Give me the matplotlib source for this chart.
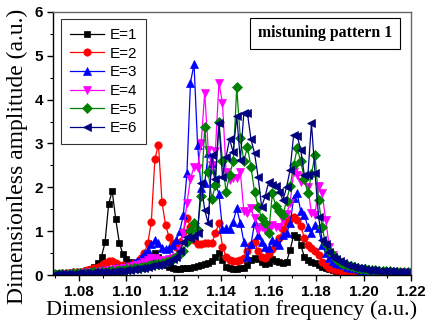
import numpy as np
import matplotlib
matplotlib.use("Agg")
import matplotlib.pyplot as plt
from matplotlib.ticker import MultipleLocator

# frequency grid (uniform sweep 1.07 .. 1.22)
freq = np.linspace(1.07, 1.22, 101)

E1 = [0.03,0.03,0.04,0.04,0.05,0.05,0.06,0.07,0.08,0.11,0.14,
      0.19,0.27,0.42,0.75,1.62,1.92,1.27,0.74,0.47,0.37,0.30,
      0.27,0.25,0.25,0.27,0.32,0.40,0.50,0.42,0.30,0.22,0.18,
      0.15,0.14,0.14,0.15,0.16,0.17,0.19,0.21,0.23,0.25,0.28,
      0.33,0.42,0.50,0.34,0.19,0.15,0.14,0.14,0.15,0.16,0.23,
      0.34,0.39,0.36,0.30,0.25,0.28,0.36,0.33,0.30,0.28,0.30,
      0.57,0.91,0.87,0.68,0.42,0.34,0.30,0.27,0.22,0.18,0.15,
      0.13,0.11,0.10,0.09,0.08,0.07,0.07,0.06,0.06,0.05,0.05,
      0.05,0.05,0.04,0.04,0.04,0.04,0.04,0.03,0.03,0.03,0.03,0.03,0.03]

E2 = [0.03,0.03,0.04,0.04,0.05,0.06,0.07,0.08,0.09,0.11,0.13,
      0.15,0.18,0.23,0.28,0.32,0.33,0.28,0.24,0.22,0.21,0.23,
      0.27,0.30,0.38,0.50,0.72,1.22,2.65,2.97,1.66,1.14,0.86,
      0.72,0.65,0.76,0.99,1.30,1.10,0.80,0.70,0.70,0.72,0.72,
      0.72,0.95,1.19,0.65,0.42,0.35,0.33,0.33,0.34,0.40,0.55,
      0.68,0.76,0.55,0.42,0.38,0.48,0.60,0.70,0.85,1.05,1.20,
      1.27,1.33,1.25,1.12,0.85,0.68,0.62,0.55,0.46,0.30,0.22,
      0.17,0.14,0.12,0.10,0.09,0.08,0.07,0.07,0.06,0.06,0.05,
      0.05,0.05,0.05,0.04,0.04,0.04,0.04,0.04,0.04,0.03,0.03,0.03,0.03]

E3 = [0.02,0.03,0.03,0.03,0.04,0.04,0.05,0.05,0.06,0.07,0.08,
      0.09,0.10,0.11,0.12,0.13,0.14,0.15,0.17,0.19,0.21,0.24,
      0.28,0.33,0.40,0.48,0.58,0.70,0.80,0.72,0.62,0.60,0.62,
      0.68,0.80,1.00,1.37,2.32,4.39,4.81,2.97,1.98,2.10,2.78,
      2.55,2.09,1.85,1.04,1.07,1.04,1.22,1.52,1.19,0.76,0.42,
      0.70,1.18,0.91,0.76,0.63,0.61,0.80,0.76,0.68,0.91,0.95,
      1.18,1.75,1.86,1.45,1.37,1.10,0.95,1.14,1.07,0.68,0.50,
      0.40,0.32,0.27,0.25,0.22,0.19,0.17,0.15,0.14,0.12,0.11,
      0.10,0.09,0.09,0.08,0.08,0.07,0.07,0.07,0.07,0.06,0.06,0.06,0.06]

E4 = [0.02,0.02,0.03,0.03,0.03,0.04,0.04,0.05,0.05,0.06,0.07,
      0.07,0.08,0.09,0.10,0.11,0.12,0.13,0.14,0.15,0.17,0.19,
      0.21,0.23,0.26,0.30,0.35,0.40,0.38,0.34,0.33,0.35,0.36,
      0.38,0.42,0.55,0.97,1.64,2.20,2.47,2.45,3.00,4.16,2.85,
      2.51,2.82,4.39,3.92,2.36,2.17,2.21,2.21,2.36,1.45,1.42,
      1.52,1.29,1.03,1.10,1.03,1.03,1.14,1.10,1.10,1.26,1.40,
      1.64,2.36,2.28,2.13,2.24,2.00,1.41,1.37,2.02,1.86,1.26,
      0.65,0.45,0.34,0.28,0.24,0.21,0.18,0.16,0.14,0.12,0.11,
      0.10,0.09,0.09,0.08,0.08,0.07,0.07,0.06,0.06,0.06,0.06,0.05,0.05]

E5 = [0.02,0.02,0.03,0.03,0.03,0.04,0.04,0.04,0.05,0.05,0.06,
      0.06,0.07,0.07,0.08,0.09,0.10,0.10,0.11,0.12,0.13,0.14,
      0.15,0.16,0.18,0.19,0.21,0.23,0.25,0.26,0.28,0.30,0.33,
      0.37,0.42,0.48,0.55,0.75,1.00,1.19,1.03,1.80,3.37,2.34,
      1.73,2.05,3.50,2.59,1.90,2.28,2.59,4.28,3.12,2.60,2.92,
      2.47,1.90,1.56,1.30,1.18,0.97,1.86,1.57,1.45,1.37,1.70,
      2.02,2.50,2.89,2.59,2.20,1.86,2.30,2.74,1.71,1.10,0.70,
      0.55,0.45,0.37,0.30,0.26,0.23,0.20,0.18,0.16,0.14,0.13,
      0.12,0.11,0.11,0.10,0.10,0.09,0.09,0.08,0.08,0.08,0.08,0.07,0.07]

E6 = [0.02,0.02,0.02,0.03,0.03,0.03,0.04,0.04,0.04,0.05,0.05,
      0.06,0.06,0.07,0.07,0.08,0.08,0.09,0.10,0.10,0.11,0.12,
      0.13,0.14,0.15,0.17,0.18,0.20,0.22,0.24,0.26,0.29,0.32,
      0.36,0.42,0.55,0.75,0.87,0.84,0.90,0.97,2.09,1.48,1.18,
      2.74,2.20,3.46,2.24,2.70,3.10,2.80,3.63,2.63,3.69,3.69,
      3.10,2.78,2.24,1.56,1.80,2.13,2.05,2.02,1.90,1.71,2.00,
      2.40,3.20,3.17,2.85,2.28,2.28,3.46,2.32,1.33,0.80,0.70,
      0.52,0.42,0.36,0.31,0.27,0.23,0.20,0.18,0.16,0.15,0.13,
      0.12,0.11,0.11,0.10,0.10,0.09,0.09,0.09,0.08,0.08,0.08,0.08,0.08]

series = [E1, E2, E3, E4, E5, E6]
labels = ["E=1", "E=2", "E=3", "E=4", "E=5", "E=6"]
colors = ["#000000", "#ff0000", "#0000ff", "#ff00ff", "#008000", "#000080"]
markers = ["s", "o", "^", "v", "D", "<"]
msizes = [4.8, 5.3, 5.8, 5.8, 4.8, 5.8]

fig = plt.figure(figsize=(4.3, 3.31), dpi=100)
ax = fig.add_axes([0.123, 0.169, 0.833, 0.795])

for y, lab, c, m, ms in zip(series, labels, colors, markers, msizes):
    ax.plot(freq, y, color=c, marker=m, markersize=ms, linewidth=0.9,
            markeredgewidth=0.5, label=lab)

ax.set_xlim(1.069, 1.22)
ax.set_ylim(0, 6)
ax.xaxis.set_minor_locator(MultipleLocator(0.01))
ax.yaxis.set_minor_locator(MultipleLocator(0.5))
ax.set_xticks([1.08, 1.10, 1.12, 1.14, 1.16, 1.18, 1.20, 1.22])
ax.set_xticklabels(["1.08", "1.10", "1.12", "1.14", "1.16", "1.18", "1.20", "1.22"])
ax.set_yticks([0, 1, 2, 3, 4, 5, 6])
ax.set_yticklabels(["0", "1", "2", "3", "4", "5", "6"])

ax.tick_params(which="both", direction="out", top=False, right=False)
ax.tick_params(which="major", length=4.5, width=1, pad=2.5)
ax.tick_params(which="minor", length=2.5, width=0.8)
for lbl in ax.get_xticklabels() + ax.get_yticklabels():
    lbl.set_fontfamily("Liberation Sans")
    lbl.set_fontweight("bold")
    lbl.set_fontsize(11)
for sp in ax.spines.values():
    sp.set_linewidth(1.0)
for sp in ["top", "right"]:
    ax.spines[sp].set_color("#666666")

ax.set_xlabel("Dimensionless excitation frequency (a.u.)", family="Liberation Serif",
              fontsize=16, labelpad=1)
ax.set_ylabel("Dimensionless amplitude (a.u.)", family="Liberation Serif",
              fontsize=17)
ax.yaxis.set_label_coords(-0.07, 0.452)

leg = ax.legend(loc="upper left", bbox_to_anchor=(0.022, 0.973),
                prop={"family": "Liberation Sans", "size": 11},
                frameon=True, fancybox=False, edgecolor="black", handlelength=2.2,
                handletextpad=0.4, borderpad=0.6, labelspacing=0.3, borderaxespad=0)
leg.get_frame().set_linewidth(0.8)

ax.text(0.948, 0.918, "mistuning pattern 1", transform=ax.transAxes, ha="right", va="center",
        family="Liberation Serif", fontweight="bold", fontsize=11.4,
        bbox=dict(boxstyle="square,pad=0.5", facecolor="white", edgecolor="black", linewidth=0.8))

fig.savefig("out.png", dpi=100)
